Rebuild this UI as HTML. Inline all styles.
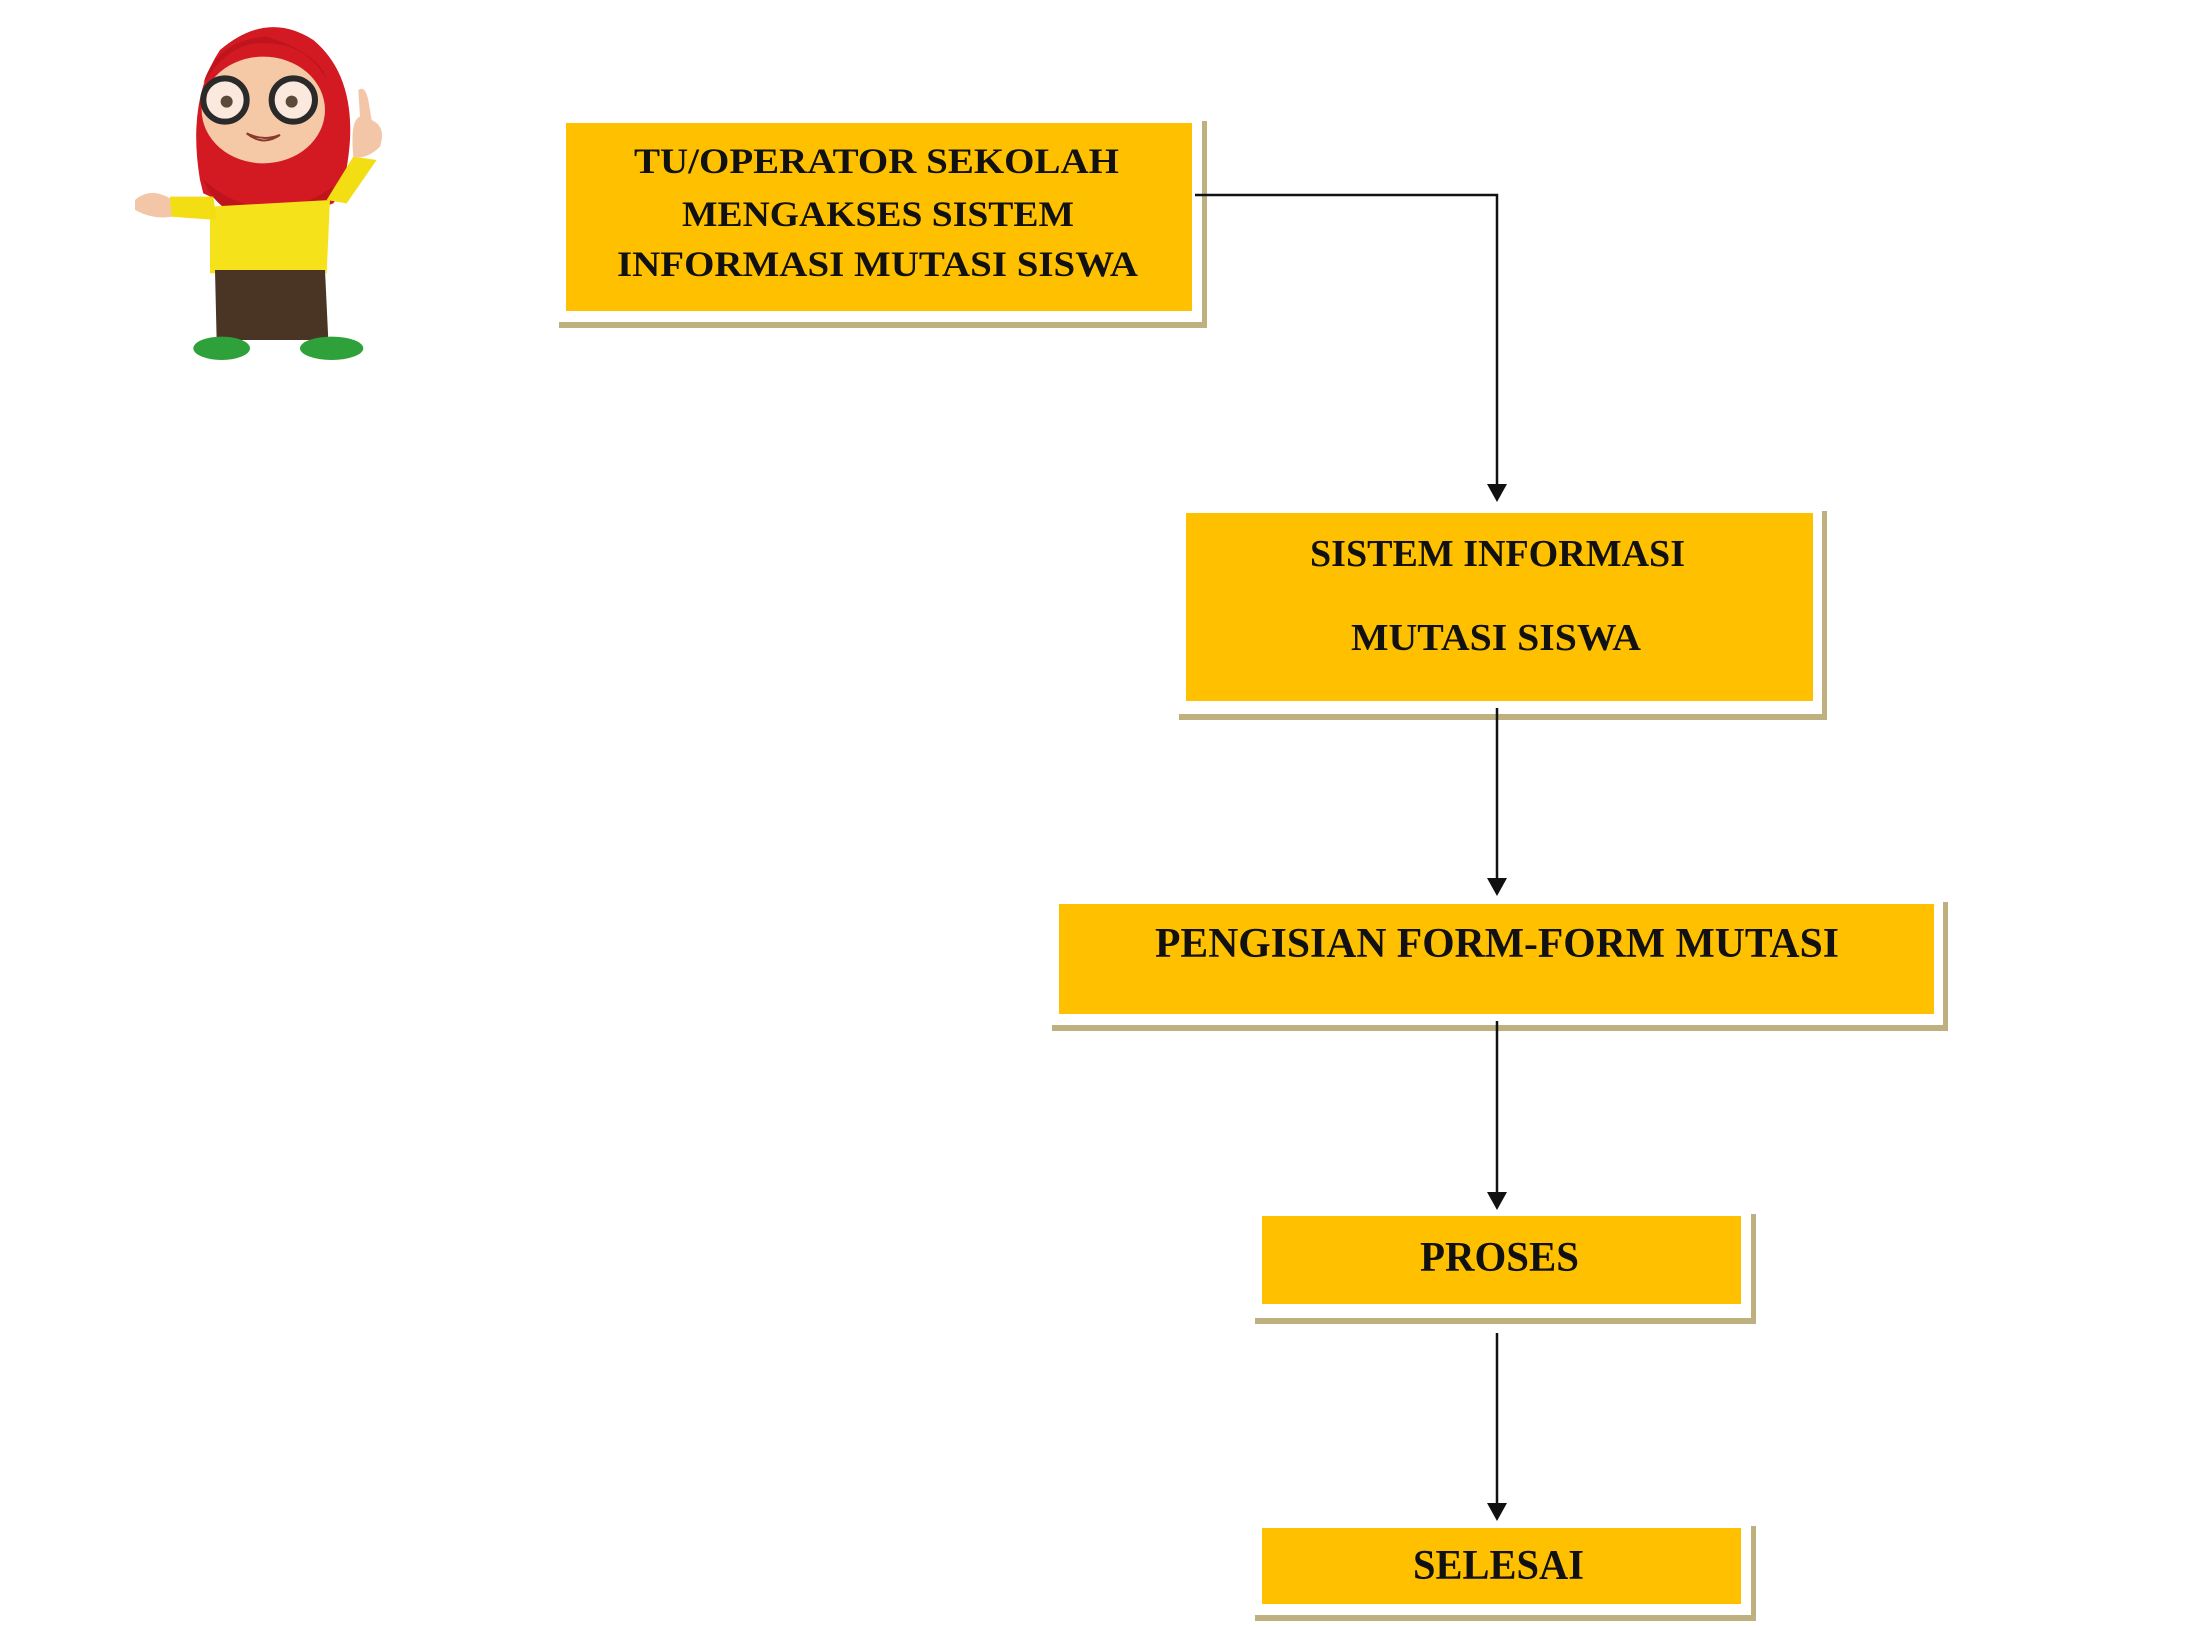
<!DOCTYPE html>
<html><head><meta charset="utf-8"><style>
html,body{margin:0;padding:0;background:#fff;}
svg{display:block}
text{font-family:"Liberation Serif",serif;font-weight:bold;fill:#111;}
</style></head><body>
<svg width="2208" height="1627" viewBox="0 0 2208 1627" xmlns="http://www.w3.org/2000/svg">
<defs>
<marker id="ar" markerWidth="10" markerHeight="10" refX="5" refY="9" orient="auto" markerUnits="userSpaceOnUse" viewBox="0 0 10 10">
</marker>
</defs>
<!-- girl -->
<g transform="translate(120,0) scale(0.3333)">
  <path d="M240 540 Q200 300 300 150 Q440 30 580 120 Q700 220 690 420 Q680 560 640 610 Q460 680 250 580 Z" fill="#d31a22"/>
  <ellipse cx="430" cy="330" rx="185" ry="160" fill="#f5c8a6"/>
  <path d="M250 250 Q330 120 440 130 Q560 130 620 240 Q600 160 440 110 Q290 120 250 250Z" fill="#c0141c"/>
  <circle cx="315" cy="300" r="65" fill="#fbe9dd" stroke="#2a2a2a" stroke-width="18"/>
  <circle cx="520" cy="300" r="65" fill="#fbe9dd" stroke="#2a2a2a" stroke-width="18"/>
  <circle cx="320" cy="305" r="18" fill="#5b4a3a"/>
  <circle cx="515" cy="305" r="18" fill="#5b4a3a"/>
  <path d="M380 400 Q430 440 480 405 Q430 425 380 400Z" fill="#fff" stroke="#8a3a2a" stroke-width="6"/>
  <path d="M250 540 Q440 700 640 560 Q600 680 450 670 Q300 660 250 540Z" fill="#c0141c"/>
  <path d="M270 620 L630 600 L620 820 L270 820 Z" fill="#f5e21a"/>
  <path d="M280 590 L150 590 L150 650 L290 660 Z" fill="#f2de12"/>
  <path d="M620 600 L700 470 L770 480 L680 610 Z" fill="#f2de12"/>
  <path d="M45 600 Q90 560 150 595 L155 650 Q100 660 45 630Z" fill="#f3c6a8"/>
  <path d="M700 470 Q690 360 720 350 L715 270 Q735 255 745 300 L755 360 Q800 380 780 440 Q740 480 700 470Z" fill="#f3c6a8"/>
  <path d="M285 810 L615 810 L625 1020 L290 1020 Z" fill="#4a3424"/>
  <ellipse cx="305" cy="1045" rx="85" ry="35" fill="#2fa13a"/>
  <ellipse cx="635" cy="1045" rx="95" ry="35" fill="#2fa13a"/>
</g>

<!-- box shadows / edges -->
<g fill="#bfb07f">
  <rect x="559" y="322" width="648" height="6"/>
  <rect x="1202" y="121" width="5" height="207"/>
  <rect x="1179" y="714" width="648" height="6"/>
  <rect x="1822" y="511" width="5" height="209"/>
  <rect x="1052" y="1025" width="896" height="6"/>
  <rect x="1943" y="902" width="5" height="129"/>
  <rect x="1255" y="1318" width="501" height="6"/>
  <rect x="1751" y="1214" width="5" height="110"/>
  <rect x="1255" y="1615" width="501" height="6"/>
  <rect x="1751" y="1526" width="5" height="95"/>
</g>
<!-- boxes -->
<g fill="#ffc000">
  <rect x="566" y="123" width="626" height="188"/>
  <rect x="1186" y="513" width="627" height="188"/>
  <rect x="1059" y="904" width="875" height="110"/>
  <rect x="1262" y="1216" width="479" height="88"/>
  <rect x="1262" y="1528" width="479" height="76"/>
</g>

<!-- connectors -->
<g stroke="#111" stroke-width="2.5" fill="none">
  <polyline points="1195,195 1497,195 1497,488"/>
  <line x1="1497" y1="708" x2="1497" y2="884"/>
  <line x1="1497" y1="1021" x2="1497" y2="1198"/>
  <line x1="1497" y1="1333" x2="1497" y2="1509"/>
</g>
<g fill="#111">
  <polygon points="1487,484 1507,484 1497,502"/>
  <polygon points="1487,878 1507,878 1497,896"/>
  <polygon points="1487,1192 1507,1192 1497,1210"/>
  <polygon points="1487,1503 1507,1503 1497,1521"/>
</g>

<!-- text -->
<g font-size="36">
  <text x="634" y="173" textLength="485" lengthAdjust="spacingAndGlyphs">TU/OPERATOR SEKOLAH</text>
  <text x="682" y="226" textLength="392" lengthAdjust="spacingAndGlyphs">MENGAKSES SISTEM</text>
  <text x="617" y="276" textLength="521" lengthAdjust="spacingAndGlyphs">INFORMASI MUTASI SISWA</text>
</g>
<g font-size="38">
  <text x="1310" y="566" textLength="375" lengthAdjust="spacingAndGlyphs">SISTEM INFORMASI</text>
  <text x="1351" y="650" textLength="290" lengthAdjust="spacingAndGlyphs">MUTASI SISWA</text>
</g>
<text x="1155" y="957" font-size="42" textLength="684" lengthAdjust="spacingAndGlyphs">PENGISIAN FORM-FORM MUTASI</text>
<text x="1420" y="1271" font-size="42" textLength="159" lengthAdjust="spacingAndGlyphs">PROSES</text>
<text x="1413" y="1579" font-size="42" textLength="171" lengthAdjust="spacingAndGlyphs">SELESAI</text>
</svg>
</body></html>
